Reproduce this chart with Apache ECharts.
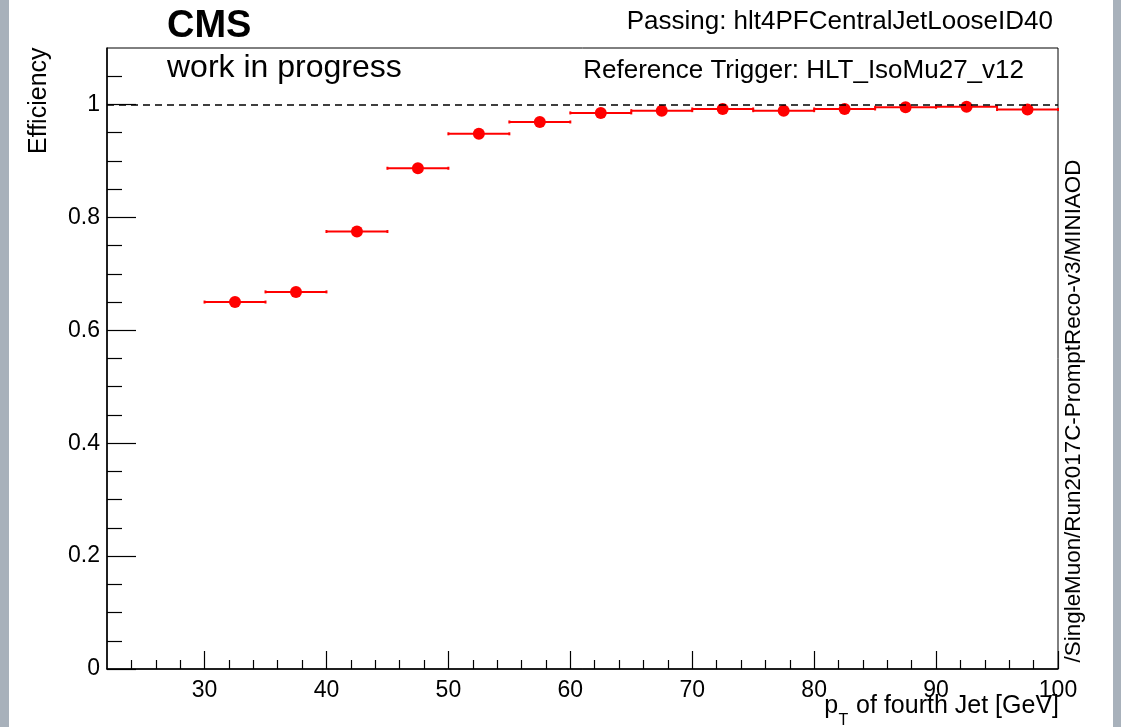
<!DOCTYPE html>
<html>
<head>
<meta charset="utf-8">
<title>Trigger efficiency</title>
<script src="https://cdn.jsdelivr.net/npm/echarts@6/dist/echarts.min.js"></script>
<style>
  html, body { margin: 0; padding: 0; background: #fff; }
  #chart { width: 1121px; height: 727px; }
</style>
</head>
<body>
<div id="chart"></div>
<script>
// bin edges (GeV) and measured efficiency per bin
const binEdges = [30, 35, 40, 45, 50, 55, 60, 65, 70, 75, 80, 85, 90, 95, 100];
const efficiency = [0.650, 0.668, 0.775, 0.887, 0.948, 0.969, 0.985, 0.989, 0.992, 0.989, 0.992, 0.995, 0.996, 0.991];

// axis ticks
const xMajor = [30, 40, 50, 60, 70, 80, 90, 100];
const xMinor = [24, 26, 28, 32, 34, 36, 38, 42, 44, 46, 48, 52, 54, 56, 58, 62, 64, 66, 68,
  72, 74, 76, 78, 82, 84, 86, 88, 92, 94, 96, 98];
const yMajor = [0, 0.2, 0.4, 0.6, 0.8, 1];
const yMinor = [0.05, 0.1, 0.15, 0.25, 0.3, 0.35, 0.45, 0.5, 0.55, 0.65, 0.7, 0.75,
  0.85, 0.9, 0.95, 1.05];

const FONT = "'Liberation Sans', Arial, Helvetica, sans-serif";
const RED = '#ff0000';

// points: [center, eff, low edge, high edge]
const points = efficiency.map((v, i) => [
  (binEdges[i] + binEdges[i + 1]) / 2, v, binEdges[i], binEdges[i + 1]
]);

function textWidth(str, size) {
  const ctx = document.createElement('canvas').getContext('2d');
  ctx.font = size + 'px ' + FONT;
  return ctx.measureText(str).width;
}

const chart = echarts.init(document.getElementById('chart'));

const titleRest = ' of fourth Jet [GeV]';
const restW = textWidth(titleRest, 25);
const tX = 1059 - restW;

const tickLabel = { color: '#000', fontSize: 23, fontFamily: FONT };

chart.setOption({
  animation: false,
  backgroundColor: '#fff',
  grid: {
    left: 107, right: 63, top: 48, bottom: 58,
    show: true, borderColor: '#000', borderWidth: 1, backgroundColor: 'transparent'
  },
  xAxis: [
    {
      type: 'value', min: 22, max: 100, position: 'bottom',
      axisLine: { show: true, lineStyle: { color: '#000', width: 1.5 } },
      axisTick: { show: true, inside: true, length: 18, customValues: xMajor, lineStyle: { color: '#000', width: 1.2 } },
      axisLabel: { show: true, customValues: xMajor, margin: 10, ...tickLabel },
      splitLine: { show: false }
    },
    {
      type: 'value', min: 22, max: 100, position: 'bottom',
      axisLine: { show: false },
      axisTick: { show: true, inside: true, length: 9, customValues: xMinor, lineStyle: { color: '#000', width: 1.2 } },
      axisLabel: { show: false },
      splitLine: { show: false }
    }
  ],
  yAxis: [
    {
      type: 'value', min: 0, max: 1.1, position: 'left',
      axisLine: { show: true, lineStyle: { color: '#000', width: 1.5 } },
      axisTick: { show: true, inside: true, length: 29, customValues: yMajor, lineStyle: { color: '#000', width: 1.2 } },
      axisLabel: {
        show: true, customValues: yMajor, margin: 7, ...tickLabel,
        formatter: v => String(+(+v).toFixed(1))
      },
      splitLine: { show: false }
    },
    {
      type: 'value', min: 0, max: 1.1, position: 'left',
      axisLine: { show: false },
      axisTick: { show: true, inside: true, length: 15, customValues: yMinor, lineStyle: { color: '#000', width: 1.2 } },
      axisLabel: { show: false },
      splitLine: { show: false }
    }
  ],
  series: [
    {
      type: 'custom',
      xAxisIndex: 0, yAxisIndex: 0,
      data: points,
      z: 2,
      renderItem: function (params, api) {
        const lo = api.coord([api.value(2), api.value(1)]);
        const hi = api.coord([api.value(3), api.value(1)]);
        const st = { stroke: RED, lineWidth: 2 };
        return {
          type: 'group',
          children: [
            { type: 'line', shape: { x1: lo[0], y1: lo[1], x2: hi[0], y2: hi[1] }, style: st },
            { type: 'line', shape: { x1: lo[0], y1: lo[1] - 1.5, x2: lo[0], y2: lo[1] + 1.5 }, style: st },
            { type: 'line', shape: { x1: hi[0], y1: hi[1] - 1.5, x2: hi[0], y2: hi[1] + 1.5 }, style: st }
          ]
        };
      }
    },
    {
      type: 'scatter',
      xAxisIndex: 0, yAxisIndex: 0,
      data: points.map(p => [p[0], p[1]]),
      symbol: 'circle',
      symbolSize: 12,
      itemStyle: { color: RED, opacity: 1 },
      z: 3,
      markLine: {
        silent: true,
        symbol: ['none', 'none'],
        label: { show: false },
        lineStyle: { color: '#000', type: [7, 5], width: 1.5, opacity: 1 },
        data: [{ yAxis: 1 }]
      }
    }
  ],
  graphic: [
    { type: 'rect', shape: { x: 0, y: 0, width: 9, height: 727 }, style: { fill: '#a8b1bb' }, silent: true },
    { type: 'rect', shape: { x: 1113, y: 0, width: 8, height: 727 }, style: { fill: '#a8b1bb' }, silent: true },
    {
      type: 'text', x: 167, y: 27,
      style: { text: 'CMS', font: 'bold 38px ' + FONT, fill: '#000', textAlign: 'left', textVerticalAlign: 'middle' }
    },
    {
      type: 'text', x: 167, y: 68,
      style: { text: 'work in progress', font: '32px ' + FONT, fill: '#000', textAlign: 'left', textVerticalAlign: 'middle' }
    },
    {
      type: 'text', x: 1053, y: 22,
      style: { text: 'Passing: hlt4PFCentralJetLooseID40', font: '26px ' + FONT, fill: '#000', textAlign: 'right', textVerticalAlign: 'middle' }
    },
    {
      type: 'text', x: 1024, y: 71,
      style: { text: 'Reference Trigger: HLT_IsoMu27_v12', font: '26px ' + FONT, fill: '#000', textAlign: 'right', textVerticalAlign: 'middle' }
    },
    {
      type: 'text', x: 39, y: 154, rotation: Math.PI / 2,
      style: { text: 'Efficiency', font: '25px ' + FONT, fill: '#000', textAlign: 'left', textVerticalAlign: 'middle' }
    },
    {
      type: 'text', x: 1074, y: 411, rotation: Math.PI / 2,
      style: { text: '/SingleMuon/Run2017C-PromptReco-v3/MINIAOD', font: '22.4px ' + FONT, fill: '#000', textAlign: 'center', textVerticalAlign: 'middle' }
    },
    {
      type: 'text', x: 1059, y: 706,
      style: { text: titleRest, font: '25px ' + FONT, fill: '#000', textAlign: 'right', textVerticalAlign: 'middle' }
    },
    {
      type: 'text', x: tX - 1, y: 721,
      style: { text: 'T', font: '16px ' + FONT, fill: '#000', textAlign: 'right', textVerticalAlign: 'middle' }
    },
    {
      type: 'text', x: tX - 11, y: 706,
      style: { text: 'p', font: '25px ' + FONT, fill: '#000', textAlign: 'right', textVerticalAlign: 'middle' }
    }
  ]
});
</script>
</body>
</html>
